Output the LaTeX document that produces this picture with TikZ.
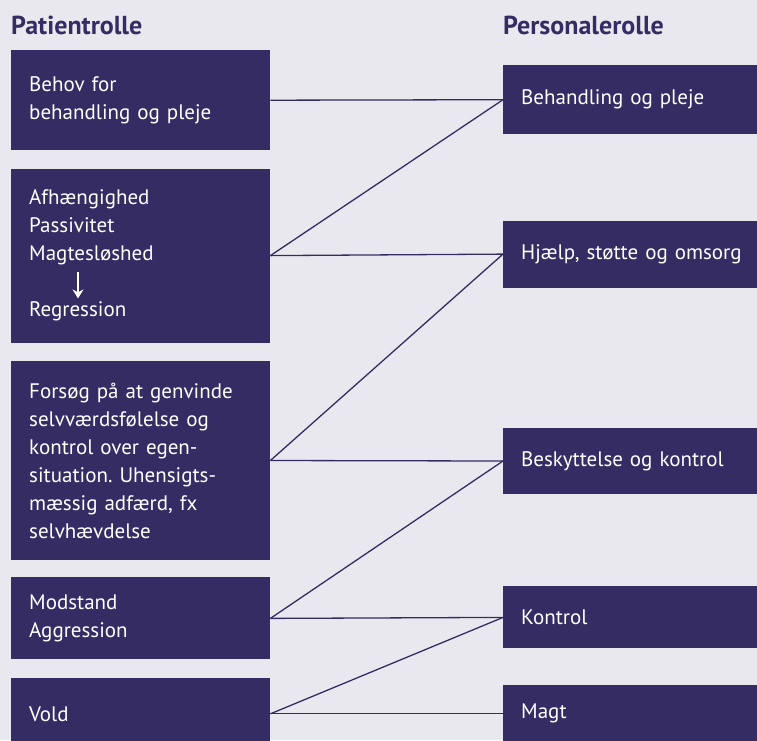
\documentclass[tikz,border=0pt]{standalone}
\usepackage{fontspec}
\setmainfont{PT Sans}
\usetikzlibrary{arrows.meta, positioning}
\definecolor{rolepurple}{HTML}{352C63}
\definecolor{panelgrey}{HTML}{EAE8EF}
\newcommand{\boxfont}{\fontsize{21}{28}\selectfont}
\newcommand{\headfont}{\fontsize{26}{28}\selectfont\bfseries}
\frenchspacing

\begin{document}
\begin{tikzpicture}[
    x=1pt, y=1pt,
    >=Stealth,
    patbox/.style={
        fill=rolepurple, text=white, anchor=north west,
        inner xsep=18pt, inner ysep=0pt,
        text width=223pt, minimum height=#1,
        font=\boxfont, align=left
    },
    staffbox/.style={
        fill=rolepurple, text=white, anchor=north west,
        inner xsep=18pt, inner ysep=0pt,
        text width=240pt, minimum height=#1,
        font=\boxfont, align=left
    },
    heading/.style={font=\headfont, text=rolepurple, inner sep=0pt},
    link/.style={draw=rolepurple, line width=1.3pt}
]

% === Background panel ===
\fill[panelgrey] (0,0) rectangle (757,-740);
\useasboundingbox (0,0) rectangle (757,-740);

% === Patient side (left column) ===
\node[patbox=100pt] (behov) at (11,-50) {
    Behov for\\
    behandling og pleje
};

\node[patbox=174pt, below=18pt of behov.south west, anchor=north west] (afhaengig) {
    Afhængighed\\
    Passivitet\\
    Magtesløshed\\[28pt]
    Regression
};

\node[patbox=199pt, below=18pt of afhaengig.south west, anchor=north west] (forsoeg) {
    Forsøg på at genvinde\\
    selvværdsfølelse og\\
    kontrol over egen-\\
    situation. Uhensigts-\\
    mæssig adfærd, fx\\
    selvhævdelse
};

\node[patbox=82pt, below=17pt of forsoeg.south west, anchor=north west] (modstand) {
    Modstand\\
    Aggression
};

\node[patbox=72pt, below=18pt of modstand.south west, anchor=north west] (vold) {
    Vold
};

% Arrow inside the dependency box
\draw[->, white, line width=1.5pt, >={Stealth[length=9pt, width=11pt]}]
    ([xshift=67pt, yshift=-104pt]afhaengig.north west) -- ++(0,-26);

% === Staff side (right column) ===
\node[staffbox=69pt] (behandling) at (503,-65) {Behandling og pleje};
\node[staffbox=67pt, below=86pt of behandling.south west, anchor=north west] (hjaelp) {Hjælp, støtte og omsorg};
\node[staffbox=66pt, below=140pt of hjaelp.south west, anchor=north west] (beskyt) {Beskyttelse og kontrol};
\node[staffbox=62pt, below=92pt of beskyt.south west, anchor=north west] (kontrol) {Kontrol};
\node[staffbox=58pt, below=36pt of kontrol.south west, anchor=north west] (magt) {Magt};

% === Headings ===
\node[heading, above=16pt of behov.north west, anchor=base west] (pathead) {Patientrolle};
\node[heading, above=31pt of behandling.north west, anchor=base west] (staffhead) {Personalerolle};

% === Links ===
\draw[link] (behov.east) -- (behandling.west);
\draw[link] (afhaengig.east) -- (behandling.west);
\draw[link] (afhaengig.east) -- (hjaelp.west);
\draw[link] (forsoeg.east) -- (hjaelp.west);
\draw[link] (forsoeg.east) -- (beskyt.west);
\draw[link] (modstand.east) -- (beskyt.west);
\draw[link] (modstand.east) -- (kontrol.west);
\draw[link] (vold.east) -- (kontrol.west);
\draw[link] (vold.east) -- (magt.west);

\end{tikzpicture}
\end{document}
